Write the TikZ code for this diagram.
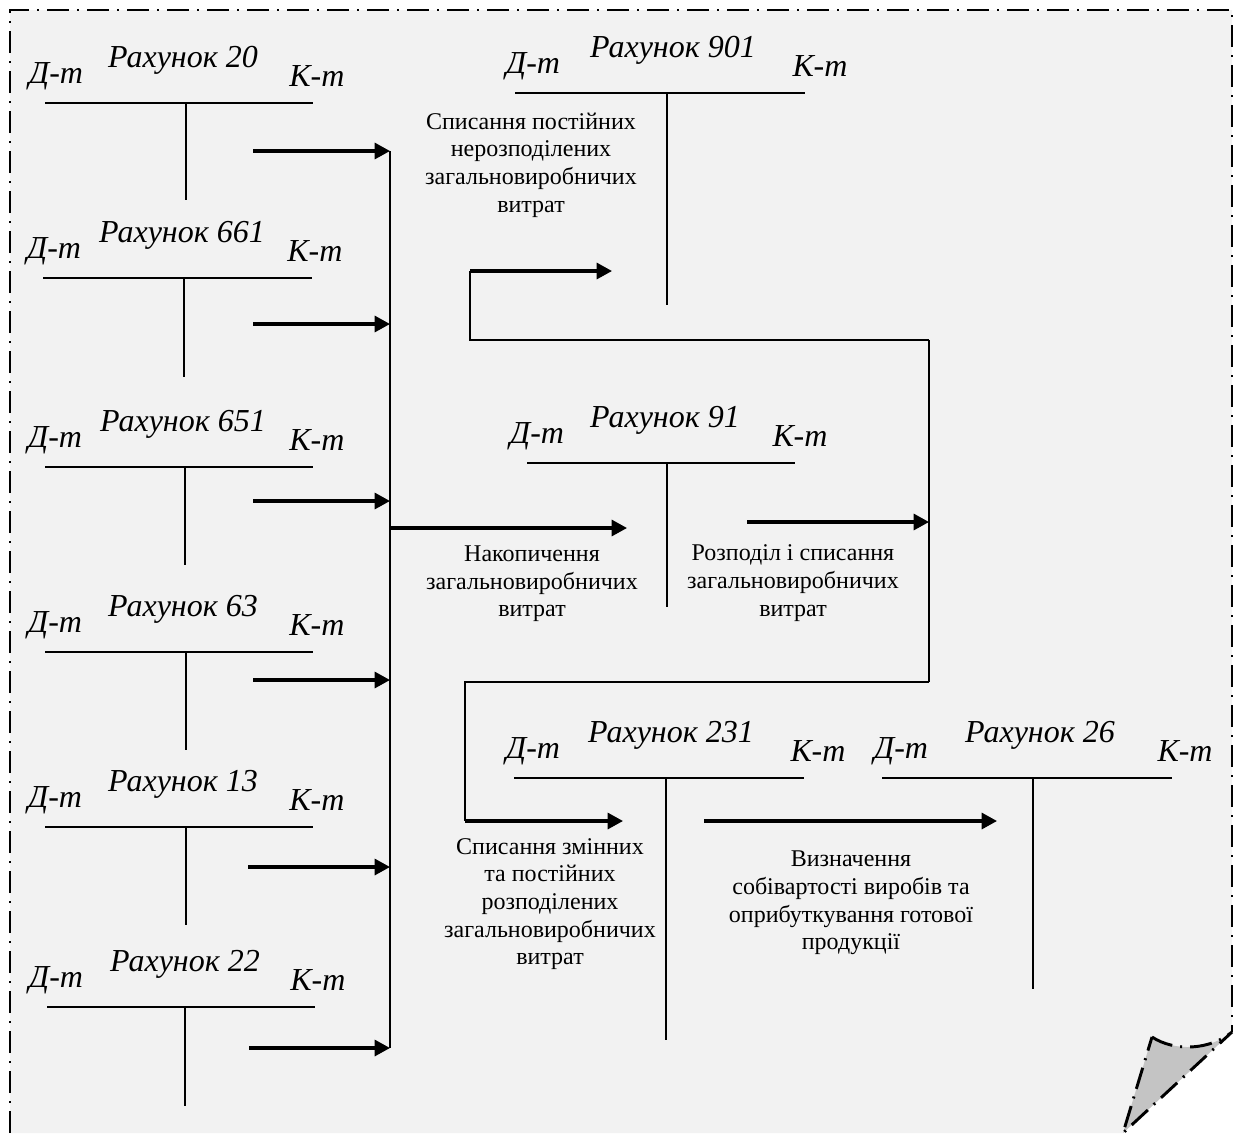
\documentclass[tikz,border=0pt]{standalone}
\usepackage{fontspec}
\setmainfont{Liberation Serif}
\usetikzlibrary{arrows.meta}
\definecolor{pagegray}{RGB}{242,242,242}
\definecolor{foldgray}{RGB}{196,196,196}
\tikzset{
  tline/.style={line width=1.5pt},
  flow/.style={line width=2.3pt,-{Triangle[length=11.5pt,width=12pt]}},
  wire/.style={line width=1.5pt},
  edge/.style={line width=2.2pt,dash pattern=on 16.5pt off 6pt on 1.5pt off 6pt},
  acct/.style={inner sep=0pt,font=\fontsize{24pt}{28pt}\selectfont\itshape},
  note/.style={inner sep=0pt,align=center,font=\fontsize{18pt}{20.7pt}\selectfont}
}
% T-account: #1 name, #2 left x, #3 right x, #4 line y, #5 stem x, #6 stem end y,
% #7 title x, #8 Dt x, #9 Kt x ; the account number is taken from \acctnum
\newcommand\taccount[9]{%
  \coordinate (#1-l) at (#2,#4);
  \coordinate (#1-r) at (#3,#4);
  \coordinate (#1-t) at (#5,#4);
  \coordinate (#1-b) at (#5,#6);
  \draw[tline] (#1-l) -- (#1-r);
  \draw[tline] (#1-t) -- (#1-b);
  \node[acct] (#1-dt) at (#8,#4-27) {Д-т};
  \node[acct] (#1-kt) at (#9,#4-27) {К-т};
  \node[acct] (#1-name) at (#7,#4-43) {Рахунок \acctnum};
}
\begin{document}
\begin{tikzpicture}[x=0.75pt,y=-0.75pt]
\useasboundingbox (0,0) rectangle (1239,1133);
% sheet with folded corner
\fill[pagegray] (10,10) -- (1232,10) -- (1232,1032) -- (1123,1133) -- (10,1133) -- cycle;
\draw[edge] (10,1133) -- (10,10) -- (1232,10) -- (1232,1032);
\filldraw[fill=foldgray,edge] (1152,1037) .. controls (1175,1052) and (1210,1050) .. (1232,1032) -- (1123,1133) -- cycle;

% left column of accounts
\def\acctnum{20}\taccount{a20}{45}{313}{103}{186}{200}{183}{56}{317}
\def\acctnum{661}\taccount{a661}{43}{312}{278}{184}{377}{182}{54}{315}
\def\acctnum{651}\taccount{a651}{45}{313}{467}{185}{565}{183}{55}{317}
\def\acctnum{63}\taccount{a63}{45}{313}{652}{186}{750}{183}{55}{317}
\def\acctnum{13}\taccount{a13}{45}{313}{827}{186}{925}{183}{55}{317}
\def\acctnum{22}\taccount{a22}{47}{315}{1007}{185}{1106}{185}{56}{318}

% middle and right accounts
\def\acctnum{901}\taccount{a901}{515}{805}{93}{667}{305}{673}{533}{820}
\def\acctnum{91}\taccount{a91}{527}{795}{463}{667}{607}{665}{537}{800}
\def\acctnum{231}\taccount{a231}{514}{804}{778}{666}{1040}{671}{533}{818}
\def\acctnum{26}\taccount{a26}{882}{1172}{778}{1033}{989}{1040}{901}{1185}

% collector line
\coordinate (c1) at (390,151);
\coordinate (c2) at (390,324);
\coordinate (c3) at (390,501);
\coordinate (c4) at (390,680);
\coordinate (c5) at (390,867);
\coordinate (c6) at (390,1048);
\coordinate (cm) at (390,528);
\draw[wire] (c1) -- (c6);
\coordinate (s1) at (253,151);
\coordinate (s2) at (253,324);
\coordinate (s3) at (253,501);
\coordinate (s4) at (253,680);
\coordinate (s5) at (248,867);
\coordinate (s6) at (249,1048);
\foreach \i in {1,...,6} \draw[flow] (s\i) -- (c\i);

% accumulation into account 91
\coordinate (n91) at (627,528);
\draw[flow] (cm) -- (n91);
\node[note] (tacc) at (532,584) {Накопичення\\загальновиробничих\\витрат};

% distribution out of account 91
\coordinate (o91) at (747,522);
\coordinate (rv) at (929,522);
\draw[flow] (o91) -- (rv);
\node[note] (tdist) at (793,583) {Розподіл і списання\\загальновиробничих\\витрат};

% route to account 901
\coordinate (rt) at (929,340);
\coordinate (lt) at (470,340);
\coordinate (lu) at (470,271);
\coordinate (n901) at (612,271);
\coordinate (rb) at (929,682);
\draw[wire] (rt) -- (rb);
\draw[wire] (rt) -- (lt) -- (lu);
\draw[flow] (lu) -- (n901);
\node[note] (tfix) at (531,165) {Списання постійних\\нерозподілених\\загальновиробничих\\витрат};

% route to account 231
\coordinate (lb) at (465,682);
\coordinate (ld) at (465,821);
\coordinate (n231) at (623,821);
\draw[wire] (rb) -- (lb) -- (ld);
\draw[flow] (ld) -- (n231);
\node[note] (tvar) at (550,904) {Списання змінних\\та постійних\\розподілених\\загальновиробничих\\витрат};

% from 231 to 26
\coordinate (o231) at (704,821);
\coordinate (n26) at (997,821);
\draw[flow] (o231) -- (n26);
\node[note] (tcost) at (851,903) {Визначення\\собівартості виробів та\\оприбуткування готової\\продукції};
\end{tikzpicture}
\end{document}
